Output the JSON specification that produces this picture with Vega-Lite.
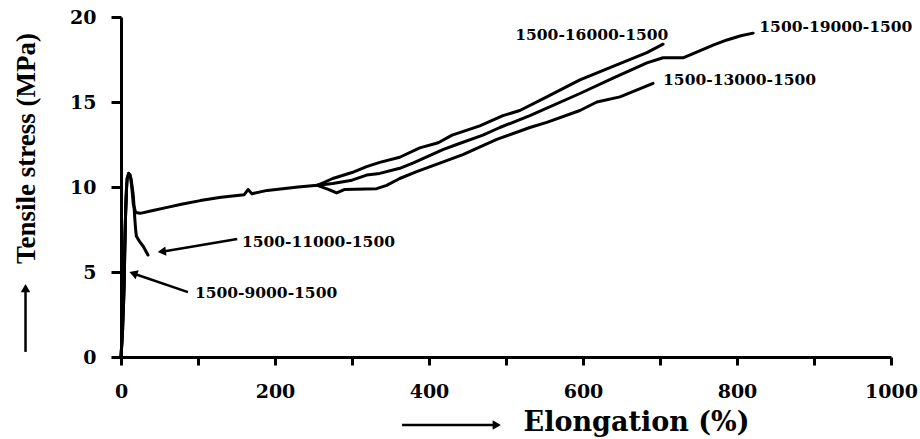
{
  "$schema": "https://vega.github.io/schema/vega-lite/v6.json",
  "width": 770,
  "height": 340,
  "autosize": {"type": "none"},
  "padding": {"left": 121, "top": 17, "right": 29, "bottom": 82},
  "background": "white",
  "config": {"view": {"stroke": null}, "axis": {"grid": false}},
  "datasets": {
    "curves": [
      {"series": "shared", "i": 0, "x": 0, "y": 0},
      {"series": "shared", "i": 1, "x": 2, "y": 1.5},
      {"series": "shared", "i": 2, "x": 4, "y": 4},
      {"series": "shared", "i": 3, "x": 5, "y": 6.5},
      {"series": "shared", "i": 4, "x": 6, "y": 8.5},
      {"series": "shared", "i": 5, "x": 7, "y": 9.8},
      {"series": "shared", "i": 6, "x": 8, "y": 10.5},
      {"series": "shared", "i": 7, "x": 10, "y": 10.8},
      {"series": "shared", "i": 8, "x": 12, "y": 10.7},
      {"series": "shared", "i": 9, "x": 14, "y": 10.0},
      {"series": "shared", "i": 10, "x": 16, "y": 9.0},
      {"series": "shared", "i": 11, "x": 19, "y": 8.5},
      {"series": "shared", "i": 12, "x": 25, "y": 8.45},
      {"series": "shared", "i": 13, "x": 40, "y": 8.6},
      {"series": "shared", "i": 14, "x": 60, "y": 8.8},
      {"series": "shared", "i": 15, "x": 80, "y": 9.0},
      {"series": "shared", "i": 16, "x": 103, "y": 9.2},
      {"series": "shared", "i": 17, "x": 130, "y": 9.4},
      {"series": "shared", "i": 18, "x": 160, "y": 9.55},
      {"series": "shared", "i": 19, "x": 165, "y": 9.85},
      {"series": "shared", "i": 20, "x": 170, "y": 9.6},
      {"series": "shared", "i": 21, "x": 190, "y": 9.8},
      {"series": "shared", "i": 22, "x": 230, "y": 10.0},
      {"series": "shared", "i": 23, "x": 255, "y": 10.1},

      {"series": "1500-13000-1500", "i": 0, "x": 255, "y": 10.1},
      {"series": "1500-13000-1500", "i": 1, "x": 270, "y": 9.85},
      {"series": "1500-13000-1500", "i": 2, "x": 280, "y": 9.65},
      {"series": "1500-13000-1500", "i": 3, "x": 290, "y": 9.85},
      {"series": "1500-13000-1500", "i": 4, "x": 332, "y": 9.9},
      {"series": "1500-13000-1500", "i": 5, "x": 345, "y": 10.1},
      {"series": "1500-13000-1500", "i": 6, "x": 362, "y": 10.5},
      {"series": "1500-13000-1500", "i": 7, "x": 384, "y": 10.9},
      {"series": "1500-13000-1500", "i": 8, "x": 414, "y": 11.4},
      {"series": "1500-13000-1500", "i": 9, "x": 444, "y": 11.9},
      {"series": "1500-13000-1500", "i": 10, "x": 488, "y": 12.8},
      {"series": "1500-13000-1500", "i": 11, "x": 531, "y": 13.5},
      {"series": "1500-13000-1500", "i": 12, "x": 553, "y": 13.8},
      {"series": "1500-13000-1500", "i": 13, "x": 596, "y": 14.5},
      {"series": "1500-13000-1500", "i": 14, "x": 618, "y": 15.0},
      {"series": "1500-13000-1500", "i": 15, "x": 648, "y": 15.3},
      {"series": "1500-13000-1500", "i": 16, "x": 691, "y": 16.1},

      {"series": "1500-16000-1500", "i": 0, "x": 255, "y": 10.1},
      {"series": "1500-16000-1500", "i": 1, "x": 275, "y": 10.5},
      {"series": "1500-16000-1500", "i": 2, "x": 300, "y": 10.85},
      {"series": "1500-16000-1500", "i": 3, "x": 319, "y": 11.2},
      {"series": "1500-16000-1500", "i": 4, "x": 336, "y": 11.45},
      {"series": "1500-16000-1500", "i": 5, "x": 362, "y": 11.75},
      {"series": "1500-16000-1500", "i": 6, "x": 388, "y": 12.3},
      {"series": "1500-16000-1500", "i": 7, "x": 412, "y": 12.6},
      {"series": "1500-16000-1500", "i": 8, "x": 430, "y": 13.05},
      {"series": "1500-16000-1500", "i": 9, "x": 466, "y": 13.6},
      {"series": "1500-16000-1500", "i": 10, "x": 496, "y": 14.2},
      {"series": "1500-16000-1500", "i": 11, "x": 518, "y": 14.5},
      {"series": "1500-16000-1500", "i": 12, "x": 553, "y": 15.3},
      {"series": "1500-16000-1500", "i": 13, "x": 596, "y": 16.3},
      {"series": "1500-16000-1500", "i": 14, "x": 639, "y": 17.1},
      {"series": "1500-16000-1500", "i": 15, "x": 683, "y": 17.9},
      {"series": "1500-16000-1500", "i": 16, "x": 704, "y": 18.4},

      {"series": "1500-19000-1500", "i": 0, "x": 255, "y": 10.1},
      {"series": "1500-19000-1500", "i": 1, "x": 275, "y": 10.2},
      {"series": "1500-19000-1500", "i": 2, "x": 300, "y": 10.4},
      {"series": "1500-19000-1500", "i": 3, "x": 319, "y": 10.7},
      {"series": "1500-19000-1500", "i": 4, "x": 336, "y": 10.8},
      {"series": "1500-19000-1500", "i": 5, "x": 362, "y": 11.1},
      {"series": "1500-19000-1500", "i": 6, "x": 379, "y": 11.4},
      {"series": "1500-19000-1500", "i": 7, "x": 418, "y": 12.2},
      {"series": "1500-19000-1500", "i": 8, "x": 436, "y": 12.5},
      {"series": "1500-19000-1500", "i": 9, "x": 470, "y": 13.05},
      {"series": "1500-19000-1500", "i": 10, "x": 492, "y": 13.5},
      {"series": "1500-19000-1500", "i": 11, "x": 531, "y": 14.2},
      {"series": "1500-19000-1500", "i": 12, "x": 596, "y": 15.5},
      {"series": "1500-19000-1500", "i": 13, "x": 639, "y": 16.4},
      {"series": "1500-19000-1500", "i": 14, "x": 683, "y": 17.3},
      {"series": "1500-19000-1500", "i": 15, "x": 704, "y": 17.6},
      {"series": "1500-19000-1500", "i": 16, "x": 730, "y": 17.6},
      {"series": "1500-19000-1500", "i": 17, "x": 769, "y": 18.35},
      {"series": "1500-19000-1500", "i": 18, "x": 787, "y": 18.65},
      {"series": "1500-19000-1500", "i": 19, "x": 805, "y": 18.9},
      {"series": "1500-19000-1500", "i": 20, "x": 821, "y": 19.05},

      {"series": "1500-11000-1500", "i": 0, "x": 0, "y": 0},
      {"series": "1500-11000-1500", "i": 1, "x": 2, "y": 1.5},
      {"series": "1500-11000-1500", "i": 2, "x": 4, "y": 4},
      {"series": "1500-11000-1500", "i": 3, "x": 5, "y": 6.5},
      {"series": "1500-11000-1500", "i": 4, "x": 6, "y": 8.5},
      {"series": "1500-11000-1500", "i": 5, "x": 7, "y": 9.8},
      {"series": "1500-11000-1500", "i": 6, "x": 8, "y": 10.5},
      {"series": "1500-11000-1500", "i": 7, "x": 10, "y": 10.8},
      {"series": "1500-11000-1500", "i": 8, "x": 13, "y": 10.5},
      {"series": "1500-11000-1500", "i": 9, "x": 16, "y": 9.5},
      {"series": "1500-11000-1500", "i": 10, "x": 18, "y": 8.1},
      {"series": "1500-11000-1500", "i": 11, "x": 19, "y": 7.5},
      {"series": "1500-11000-1500", "i": 12, "x": 20, "y": 7.1},
      {"series": "1500-11000-1500", "i": 13, "x": 24, "y": 6.8},
      {"series": "1500-11000-1500", "i": 14, "x": 29, "y": 6.5},
      {"series": "1500-11000-1500", "i": 15, "x": 35, "y": 6.0},

      {"series": "1500-9000-1500", "i": 0, "x": 0, "y": 0},
      {"series": "1500-9000-1500", "i": 1, "x": 1, "y": 0.8},
      {"series": "1500-9000-1500", "i": 2, "x": 2, "y": 2},
      {"series": "1500-9000-1500", "i": 3, "x": 3, "y": 3.5},
      {"series": "1500-9000-1500", "i": 4, "x": 4, "y": 5},
      {"series": "1500-9000-1500", "i": 5, "x": 5, "y": 6.8},
      {"series": "1500-9000-1500", "i": 6, "x": 6, "y": 8.5},
      {"series": "1500-9000-1500", "i": 7, "x": 7, "y": 9.6}
    ],
    "labels": [
      {"text": "1500-16000-1500", "x": 512, "y": 18.65},
      {"text": "1500-19000-1500", "x": 829, "y": 19.1},
      {"text": "1500-13000-1500", "x": 704, "y": 16.0},
      {"text": "1500-11000-1500", "x": 157, "y": 6.47},
      {"text": "1500-9000-1500", "x": 96, "y": 3.47}
    ],
    "pointers": [
      {"name": "1500-11000-1500", "x": 151, "y": 6.94, "x2": 55, "y2": 6.2},
      {"name": "1500-9000-1500", "x": 87, "y": 3.82, "x2": 17, "y2": 4.9},
      {"name": "y-title arrow", "x": -124, "y": 0.3, "x2": -124, "y2": 3.9},
      {"name": "x-title arrow", "x": 365, "y": -4.0, "x2": 485, "y2": -4.0}
    ]
  },
  "layer": [
    {
      "data": {"name": "curves"},
      "mark": {"type": "line", "color": "black", "strokeWidth": 3, "strokeJoin": "round", "strokeCap": "round"},
      "encoding": {
        "x": {
          "field": "x", "type": "quantitative",
          "scale": {"domain": [0, 1000], "nice": false, "zero": false},
          "axis": {
            "title": "Elongation (%)",
            "values": [0, 100, 200, 300, 400, 500, 600, 700, 800, 900, 1000],
            "labelExpr": "datum.value % 200 === 0 ? datum.label : ''",
            "format": "d",
            "domainColor": "black", "domainWidth": 3,
            "tickColor": "black", "tickWidth": 3, "tickSize": 8,
            "labelFont": "DejaVu Serif", "labelFontWeight": "bold", "labelFontSize": 19,
            "labelColor": "black", "labelPadding": 17, "labelFlush": false, "labelOverlap": false,
            "titleFont": "DejaVu Serif", "titleFontWeight": "bold", "titleFontSize": 27,
            "titleColor": "black", "titleX": 515, "titleY": 73,
            "titleAlign": "center", "titleBaseline": "alphabetic", "titleAnchor": null
          }
        },
        "y": {
          "field": "y", "type": "quantitative",
          "scale": {"domain": [0, 20], "nice": false},
          "axis": {
            "title": "Tensile stress (MPa)",
            "values": [0, 5, 10, 15, 20],
            "domainColor": "black", "domainWidth": 3,
            "tickColor": "black", "tickWidth": 3, "tickSize": 10,
            "labelFont": "DejaVu Serif", "labelFontWeight": "bold", "labelFontSize": 19,
            "labelColor": "black", "labelPadding": 15, "labelFlush": false, "labelOverlap": false,
            "titleFont": "Liberation Serif", "titleFontWeight": "bold", "titleFontSize": 27,
            "titleColor": "black", "titleX": -87, "titleY": 131, "titleAngle": -90,
            "titleAlign": "center", "titleBaseline": "alphabetic"
          }
        },
        "detail": {"field": "series"},
        "order": {"field": "i", "type": "quantitative"}
      }
    },
    {
      "data": {"name": "pointers"},
      "mark": {"type": "rule", "color": "black", "strokeWidth": 2.5},
      "encoding": {
        "x": {"field": "x", "type": "quantitative"},
        "y": {"field": "y", "type": "quantitative"},
        "x2": {"field": "x2"},
        "y2": {"field": "y2"}
      }
    },
    {
      "data": {"values": [{"x": 53, "y": 6.2}]},
      "mark": {"type": "point", "shape": "triangle-left", "filled": true, "color": "black", "size": 90, "angle": -7, "opacity": 1},
      "encoding": {"x": {"field": "x", "type": "quantitative"}, "y": {"field": "y", "type": "quantitative"}}
    },
    {
      "data": {"values": [{"x": 16, "y": 4.92}]},
      "mark": {"type": "point", "shape": "triangle-left", "filled": true, "color": "black", "size": 90, "angle": 19, "opacity": 1},
      "encoding": {"x": {"field": "x", "type": "quantitative"}, "y": {"field": "y", "type": "quantitative"}}
    },
    {
      "data": {"values": [{"x": -124, "y": 4.05}]},
      "mark": {"type": "point", "shape": "triangle-up", "filled": true, "color": "black", "size": 90, "opacity": 1},
      "encoding": {"x": {"field": "x", "type": "quantitative"}, "y": {"field": "y", "type": "quantitative"}}
    },
    {
      "data": {"values": [{"x": 488, "y": -4.0}]},
      "mark": {"type": "point", "shape": "triangle-right", "filled": true, "color": "black", "size": 90, "opacity": 1},
      "encoding": {"x": {"field": "x", "type": "quantitative"}, "y": {"field": "y", "type": "quantitative"}}
    },
    {
      "data": {"name": "labels"},
      "mark": {"type": "text", "align": "left", "baseline": "alphabetic", "font": "DejaVu Serif", "fontWeight": "bold", "fontSize": 15.5, "color": "black"},
      "encoding": {
        "x": {"field": "x", "type": "quantitative"},
        "y": {"field": "y", "type": "quantitative"},
        "text": {"field": "text"}
      }
    }
  ]
}
